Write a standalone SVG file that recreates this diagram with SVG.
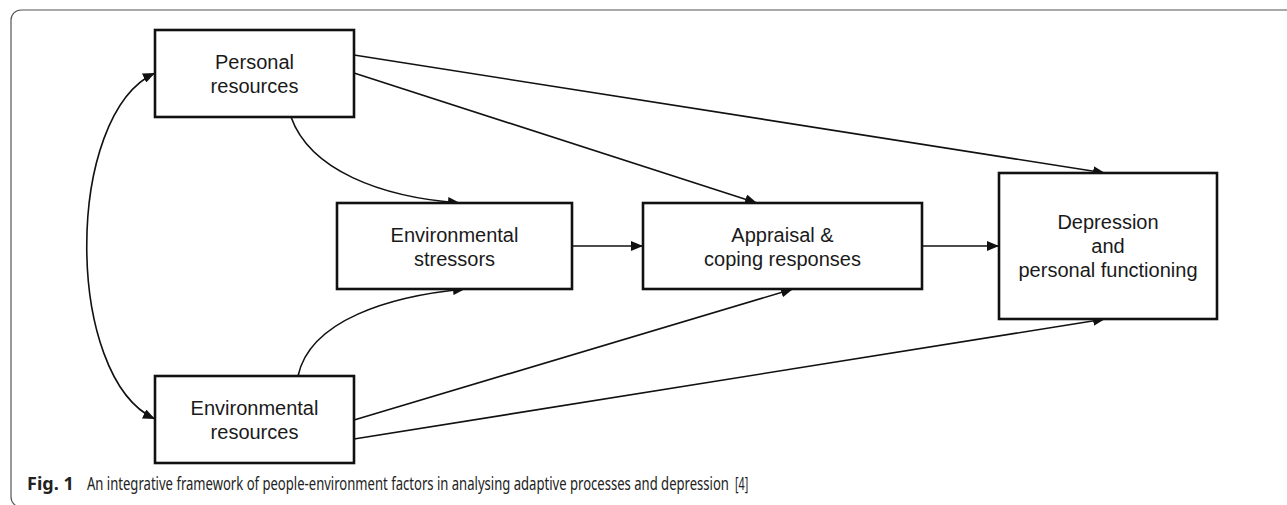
<svg xmlns="http://www.w3.org/2000/svg" width="1287" height="505" viewBox="0 0 1287 505">
  <style>
    .box { fill: #ffffff; stroke: #111111; stroke-width: 2.6; }
    .lbl { font-family: "Liberation Sans", Arial, sans-serif; font-size: 20px; fill: #1a1a1a; text-anchor: middle; }
    .edge { fill: none; stroke: #111111; stroke-width: 1.6; }
    .cap { font-family: "Noto Sans", "Open Sans", sans-serif; font-size: 18px; fill: #222222; }
  </style>
  <defs>
    <marker id="arrow" viewBox="0 0 12 10" refX="12" refY="5" markerWidth="12" markerHeight="10" markerUnits="userSpaceOnUse" orient="auto">
      <path d="M0,0 L12,5 L0,10 Z" fill="#111111"/>
    </marker>
    <marker id="arrowStart" viewBox="0 0 12 10" refX="0" refY="5" markerWidth="12" markerHeight="10" markerUnits="userSpaceOnUse" orient="auto">
      <path d="M12,0 L0,5 L12,10 Z" fill="#111111"/>
    </marker>
  </defs>

  <rect width="1287" height="505" fill="#ffffff"/>
  <!-- figure frame -->
  <rect x="11" y="10" width="1300" height="497" rx="10" ry="10" fill="none" stroke="#555555" stroke-width="1.2"/>

  <!-- connectors -->
  <g id="connectors">
    <path class="edge" d="M155,73 C64,115 64,377 155,419" marker-start="url(#arrowStart)" marker-end="url(#arrow)"/>
    <path class="edge" d="M354,55 L1105,173" marker-end="url(#arrow)"/>
    <path class="edge" d="M354,73 L757,203" marker-end="url(#arrow)"/>
    <path class="edge" d="M291,117 C310,170 380,197 460,203" marker-end="url(#arrow)"/>
    <path class="edge" d="M298,376 C310,320 390,296 465,289" marker-end="url(#arrow)"/>
    <path class="edge" d="M354,420 L793,289" marker-end="url(#arrow)"/>
    <path class="edge" d="M354,439 L1105,319" marker-end="url(#arrow)"/>
    <path class="edge" d="M572,246 L643,246" marker-end="url(#arrow)"/>
    <path class="edge" d="M922,246 L999,246" marker-end="url(#arrow)"/>
  </g>

  <g id="personal-resources">
    <rect class="box" x="155" y="30" width="199" height="87"/>
    <text class="lbl" x="254.5" y="69">Personal</text>
    <text class="lbl" x="254.5" y="93">resources</text>
  </g>

  <g id="environmental-resources">
    <rect class="box" x="155" y="376" width="199" height="87"/>
    <text class="lbl" x="254.5" y="415">Environmental</text>
    <text class="lbl" x="254.5" y="439">resources</text>
  </g>

  <g id="environmental-stressors">
    <rect class="box" x="337" y="203" width="235" height="86"/>
    <text class="lbl" x="454.5" y="242">Environmental</text>
    <text class="lbl" x="454.5" y="266">stressors</text>
  </g>

  <g id="appraisal-coping">
    <rect class="box" x="643" y="203" width="279" height="86"/>
    <text class="lbl" x="782.5" y="242">Appraisal &amp;</text>
    <text class="lbl" x="782.5" y="266">coping responses</text>
  </g>

  <g id="depression-functioning">
    <rect class="box" x="999" y="173" width="218" height="146"/>
    <text class="lbl" x="1108" y="229">Depression</text>
    <text class="lbl" x="1108" y="253">and</text>
    <text class="lbl" x="1108" y="277">personal functioning</text>
  </g>

  <!-- caption: body text is set in a horizontally condensed face -->
  <g id="caption">
    <text class="cap" x="27" y="490" font-weight="bold">Fig. 1</text>
    <text class="cap" transform="translate(87,490) scale(0.7213,1)" x="0" y="0" textLength="890" lengthAdjust="spacingAndGlyphs">An integrative framework of people-environment factors in analysing adaptive processes and depression</text>
    <text class="cap" transform="translate(735,490) scale(0.6,1)" x="0" y="0" fill="#2f4fd6">[4]</text>
  </g>
</svg>
